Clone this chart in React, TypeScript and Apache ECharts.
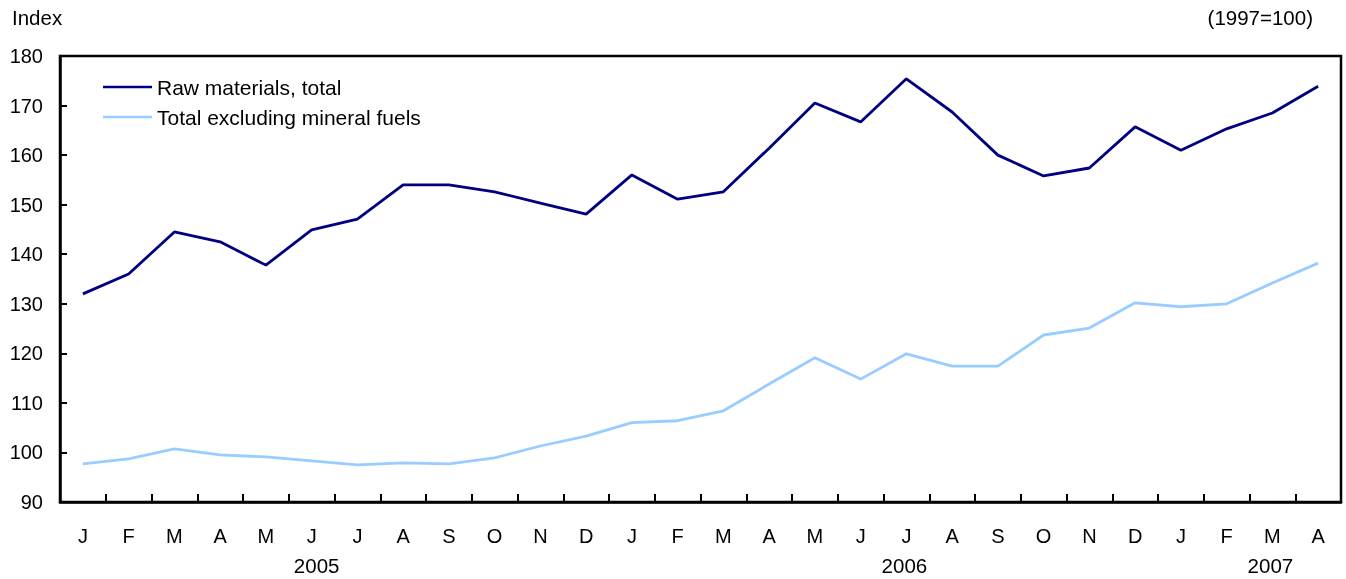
import React, { useEffect, useRef } from "react";
import * as echarts from "echarts";

const months = ["J", "F", "M", "A", "M", "J", "J", "A", "S", "O", "N", "D", "J", "F", "M", "A", "M", "J", "J", "A", "S", "O", "N", "D", "J", "F", "M", "A"];
const rawMaterials = [132.0, 136.0, 144.5, 142.5, 137.8, 144.9, 147.1, 154.0, 154.0, 152.6, 150.3, 148.1, 156.0, 151.1, 152.6, 161.4, 170.5, 166.7, 175.4, 168.7, 160.0, 155.8, 157.4, 165.7, 161.0, 165.3, 168.5, 173.9];
const exclFuels = [97.7, 98.7, 100.7, 99.5, 99.1, 98.3, 97.5, 97.9, 97.7, 98.9, 101.3, 103.3, 106.0, 106.4, 108.4, 113.8, 119.1, 114.8, 119.9, 117.4, 117.4, 123.7, 125.1, 130.2, 129.4, 130.0, 134.2, 138.2];
const yearLabels = ["2005", "2006", "2007"];
const yearIndex = [5, 18, 26];

const FONT = "Arial, 'Liberation Sans', sans-serif";

export default function App() {
  const ref = useRef<HTMLDivElement>(null);
  useEffect(() => {
    document.body.style.margin = "0";
    const chart = echarts.init(ref.current!, null, { renderer: "svg" });
    const gridLeft = 60;
    const gridRight = 5;
    const plotW = 1346 - gridLeft - gridRight;
    const band = plotW / months.length;
    chart.setOption({
      animation: false,
      textStyle: { fontFamily: FONT },
      grid: {
        left: gridLeft,
        right: gridRight,
        top: 56,
        bottom: 77,
        show: true,
        borderColor: "#000",
        borderWidth: 2.5,
      },
      legend: {
        orient: "vertical",
        left: 98,
        top: 71,
        icon: "rect",
        itemWidth: 49,
        itemHeight: 2.5,
        itemGap: 8,
        textStyle: { fontSize: 21, color: "#000", fontFamily: FONT, lineHeight: 22, padding: [0, 0, 0, 0] },
        data: ["Raw materials, total", "Total excluding mineral fuels"],
      },
      xAxis: {
        type: "category",
        data: months,
        boundaryGap: true,
        axisLine: { lineStyle: { color: "#000", width: 2.5 } },
        axisTick: { show: true, alignWithLabel: false, inside: true, length: 8, interval: 0, lineStyle: { color: "#000", width: 2 } },
        axisLabel: { interval: 0, fontSize: 20, color: "#000", margin: 24, fontFamily: FONT },
        splitLine: { show: false },
      },
      yAxis: {
        type: "value",
        min: 90,
        max: 180,
        interval: 10,
        axisLine: { show: true, lineStyle: { color: "#000", width: 2.5 } },
        axisTick: { show: true, inside: true, length: 7, lineStyle: { color: "#000", width: 2 } },
        axisLabel: { fontSize: 20, color: "#000", margin: 17, fontFamily: FONT },
        splitLine: { show: false },
      },
      graphic: [
        { type: "text", left: 12, top: 7, style: { text: "Index", fontSize: 20.5, fill: "#000", fontFamily: FONT } },
        { type: "text", right: 33, top: 7, style: { text: "(1997=100)", fontSize: 20.5, fill: "#000", fontFamily: FONT } },
        ...yearLabels.map((t, i) => ({
          type: "text",
          x: gridLeft + band * (yearIndex[i] + 0.5) + (i === 0 ? 5 : -2),
          y: 565,
          style: { text: t, fontSize: 20.5, fill: "#000", fontFamily: FONT, align: "center", verticalAlign: "middle" },
        })),
      ],
      series: [
        {
          name: "Raw materials, total",
          type: "line",
          data: rawMaterials,
          symbol: "none",
          lineStyle: { color: "#000080", width: 2.8 },
          itemStyle: { color: "#000080" },
        },
        {
          name: "Total excluding mineral fuels",
          type: "line",
          data: exclFuels,
          symbol: "none",
          lineStyle: { color: "#99CCFF", width: 2.8 },
          itemStyle: { color: "#99CCFF" },
        },
      ],
    });
    return () => chart.dispose();
  }, []);
  return <div ref={ref} style={{ position: "fixed", left: 0, top: 0, width: 1346, height: 579 }} />;
}
